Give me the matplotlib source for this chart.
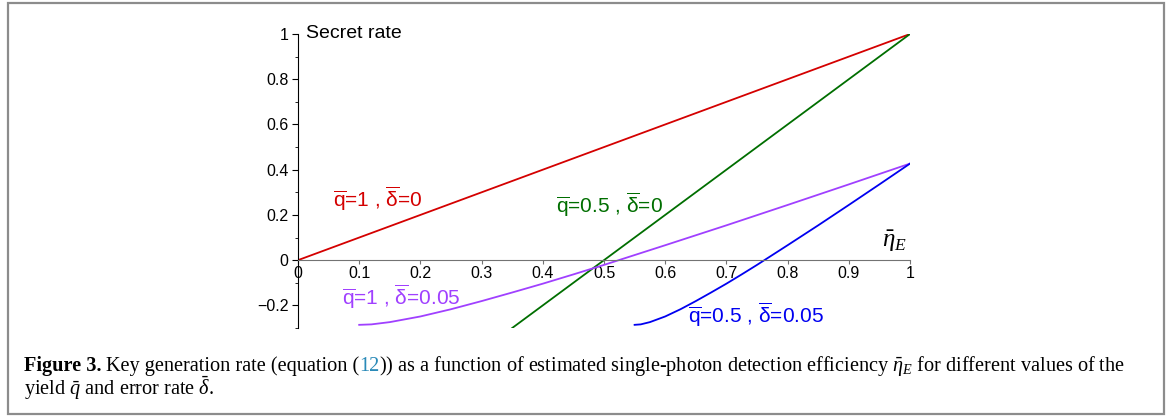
import matplotlib
matplotlib.use("Agg")
import matplotlib.pyplot as plt
from matplotlib.patches import Rectangle
from matplotlib.ticker import MultipleLocator, FuncFormatter

plt.rcParams["font.family"] = ["Liberation Sans", "DejaVu Sans"]
plt.rcParams["mathtext.fontset"] = "custom"
plt.rcParams["mathtext.rm"] = "Liberation Sans"
plt.rcParams["mathtext.it"] = "Liberation Serif:italic"
plt.rcParams["mathtext.bf"] = "Liberation Serif:bold"

# 数据
eta_q1_d0 = [0.0, 1.0]
rate_q1_d0 = [0.0, 1.0]

eta_q05_d0 = [0.35, 1.0]
rate_q05_d0 = [-0.30, 1.0]

eta_q1_d005 = [0.10, 0.11, 0.12, 0.15, 0.20, 0.25, 0.30, 0.35, 0.40, 0.45,
               0.50, 0.60, 0.70, 0.80, 0.90, 1.00]
rate_q1_d005 = [-0.286, -0.285, -0.284, -0.274, -0.249, -0.217, -0.181, -0.143,
                -0.104, -0.063, -0.021, 0.066, 0.154, 0.244, 0.335, 0.427]

eta_q05_d005 = [0.55, 0.555, 0.56, 0.575, 0.60, 0.625, 0.65, 0.675, 0.70, 0.725,
                0.75, 0.80, 0.85, 0.90, 0.95, 1.00]
rate_q05_d005 = [-0.286, -0.285, -0.284, -0.274, -0.249, -0.217, -0.181, -0.143,
                 -0.104, -0.063, -0.021, 0.066, 0.154, 0.244, 0.335, 0.427]

W, H = 1168, 419
fig = plt.figure(figsize=(W / 100, H / 100), dpi=100)
ax = fig.add_axes([298 / W, 1 - 328 / H, 612 / W, (328 - 34) / H])

ax.plot(eta_q1_d0, rate_q1_d0, color="#d40000", lw=1.3)
ax.plot(eta_q05_d0, rate_q05_d0, color="#006e00", lw=1.3)
ax.plot(eta_q1_d005, rate_q1_d005, color="#a040ff", lw=1.3)
ax.plot(eta_q05_d005, rate_q05_d005, color="#0000f0", lw=1.3)

ax.set_xlim(0, 1)
ax.set_ylim(-0.3, 1)
ax.spines["top"].set_visible(False)
ax.spines["right"].set_visible(False)
ax.spines["bottom"].set_position(("data", 0))
ax.spines["bottom"].set_color("0.45")
ax.spines["left"].set_color("black")

fmt = FuncFormatter(lambda v, p: f"{v:g}".replace("-", "\u2212"))
ax.xaxis.set_major_locator(MultipleLocator(0.1))
ax.yaxis.set_major_locator(MultipleLocator(0.2))
ax.yaxis.set_minor_locator(MultipleLocator(0.1))
ax.xaxis.set_major_formatter(fmt)
ax.yaxis.set_major_formatter(fmt)
ax.tick_params(axis="x", direction="out", length=3, pad=1.5, labelsize=11.5, color="0.45")
ax.tick_params(axis="y", which="major", direction="out", length=4, pad=3, labelsize=11.5)
ax.tick_params(axis="y", which="minor", direction="out", length=2)
ax.get_xticklabels()[0].set_ha("left")

ax.text(0.013, 1.0, "Secret rate", fontsize=14, ha="left", va="center")
ax.text(0.975, 0.085, r"$\bar{\eta}_E$", fontsize=18, ha="center", va="center")

ax.text(0.057, 0.27, r"$\overline{\mathrm{q}}$=1 , $\overline{\mathrm{\delta}}$=0",
        color="#d40000", fontsize=15, ha="left", va="center")
ax.text(0.422, 0.243, r"$\overline{\mathrm{q}}$=0.5 , $\overline{\mathrm{\delta}}$=0",
        color="#006e00", fontsize=15, ha="left", va="center")
ax.text(0.072, -0.16, r"$\overline{\mathrm{q}}$=1 , $\overline{\mathrm{\delta}}$=0.05",
        color="#a040ff", fontsize=15, ha="left", va="center")
ax.text(0.637, -0.24, r"$\overline{\mathrm{q}}$=0.5 , $\overline{\mathrm{\delta}}$=0.05",
        color="#0000f0", fontsize=15, ha="left", va="center")

# 外框
fig.patches.append(Rectangle((8 / W, 1 - 414 / H), 1156 / W, 411 / H,
                             transform=fig.transFigure, fill=False,
                             edgecolor="#8c8c8c", lw=1.6))

# 图注
renderer = fig.canvas.get_renderer()
cap = dict(family="Liberation Serif", fontsize=14.6)


def put_line(pieces, x, y):
    for s, gap, kw in pieces:
        t = fig.text(x, y, s, va="baseline", **cap, **kw)
        bb = t.get_window_extent(renderer)
        x += (bb.width + gap) / W


put_line([
    ("Figure 3.", 4, dict(weight="bold")),
    ("Key generation rate (equation (", 0, {}),
    ("12", 0, dict(color="#2a8ab8")),
    (r")) as a function of estimated single-photon detection efficiency $\bar{\eta}_E$ for different values of the", 0, {}),
], 24 / W, 1 - 371 / H)
put_line([
    (r"yield $\bar{q}$ and error rate $\bar{\delta}$.", 0, {}),
], 24 / W, 1 - 395 / H)

fig.savefig("out.png", dpi=100)
